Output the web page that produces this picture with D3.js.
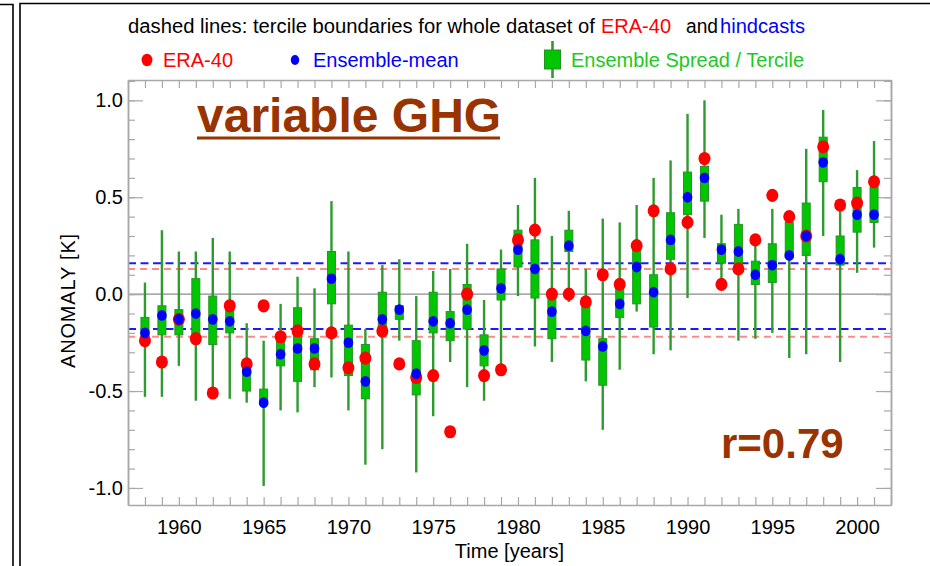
<!DOCTYPE html>
<html>
<head>
<meta charset="utf-8">
<script src="https://cdn.jsdelivr.net/npm/d3@7"></script>
<style>
  html, body { margin: 0; padding: 0; background: #fff; }
  svg { display: block; font-family: "Liberation Sans", Arial, Helvetica, sans-serif; }
</style>
</head>
<body>
<svg id="chart" width="930" height="566"></svg>
<script>
// Years of the hindcast period
const years = d3.range(1958, 2002);

// ERA-40 reanalysis anomaly [K]
const era40 = [-0.24, -0.35, -0.13, -0.23, -0.51, -0.06, -0.36, -0.06, -0.22, -0.19,
               -0.36, -0.20, -0.38, -0.33, -0.19, -0.36, -0.43, -0.42, -0.71, 0.00,
               -0.42, -0.39, 0.28, 0.33, 0.00, 0.00, -0.04, 0.10, 0.05, 0.25,
               0.43, 0.13, 0.37, 0.70, 0.05, 0.13, 0.28, 0.51, 0.40, 0.30,
               0.76, 0.46, 0.47, 0.58];

// Ensemble-mean anomaly [K]
const ensMean = [-0.20, -0.11, -0.13, -0.10, -0.13, -0.14, -0.40, -0.56, -0.31, -0.28,
                 -0.28, 0.08, -0.25, -0.45, -0.13, -0.08, -0.41, -0.14, -0.15, -0.08,
                 -0.29, 0.03, 0.23, 0.13, -0.09, 0.25, -0.19, -0.27, -0.05, 0.14,
                 0.01, 0.28, 0.50, 0.60, 0.23, 0.22, 0.10, 0.15, 0.20, 0.30,
                 0.68, 0.18, 0.41, 0.41];

// Ensemble spread (min / max of members)
const spreadMin = [-0.53, -0.53, -0.37, -0.55, -0.54, -0.54, -0.56, -0.99, -0.60, -0.61,
                   -0.48, -0.43, -0.60, -0.88, -0.80, -0.24, -0.92, -0.63, -0.35, -0.48,
                   -0.55, -0.38, -0.01, -0.27, -0.35, -0.04, -0.45, -0.70, -0.39, -0.09,
                   -0.31, -0.29, -0.02, 0.29, 0.06, -0.24, -0.23, -0.20, -0.33, -0.31,
                   0.30, -0.35, 0.11, 0.24];
const spreadMax = [0.06, 0.33, 0.22, 0.22, 0.29, 0.22, -0.15, -0.24, -0.05, 0.09,
                   0.03, 0.48, 0.22, -0.18, 0.15, 0.18, -0.01, 0.12, 0.13, 0.26,
                   -0.03, 0.23, 0.46, 0.60, 0.30, 0.43, 0.13, 0.39, 0.37, 0.46,
                   0.60, 0.69, 0.93, 1.00, 0.41, 0.44, 0.28, 0.44, 0.40, 0.75,
                   0.95, 0.44, 0.64, 0.79];

// Ensemble terciles (lower / upper)
const tercLow = [-0.24, -0.21, -0.21, -0.22, -0.26, -0.20, -0.50, -0.57, -0.37, -0.45,
                 -0.39, -0.05, -0.42, -0.54, -0.19, -0.13, -0.52, -0.20, -0.24, -0.18,
                 -0.37, -0.03, 0.14, -0.02, -0.23, 0.22, -0.34, -0.47, -0.12, -0.05,
                 -0.17, 0.18, 0.41, 0.48, 0.16, 0.15, 0.05, 0.06, 0.19, 0.20,
                 0.58, 0.15, 0.32, 0.37];
const tercHigh = [-0.12, -0.06, -0.08, 0.08, -0.01, -0.07, -0.36, -0.49, -0.24, -0.07,
                  -0.23, 0.22, -0.16, -0.26, 0.01, -0.06, -0.24, 0.01, -0.09, 0.05,
                  -0.21, 0.13, 0.33, 0.28, 0.00, 0.33, -0.04, -0.23, 0.07, 0.24,
                  0.10, 0.42, 0.63, 0.66, 0.26, 0.36, 0.17, 0.26, 0.37, 0.47,
                  0.81, 0.30, 0.55, 0.55];

// Tercile boundaries over the whole dataset
const eraTerciles = [-0.22, 0.13];
const hindcastTerciles = [-0.18, 0.16];

// Axis tick values and labels
const yMajorTicks = [-1.0, -0.5, 0.0, 0.5, 1.0];
const xLabelYears = [1960, 1965, 1970, 1975, 1980, 1985, 1990, 1995, 2000];

const rows = years.map((yr, i) => ({
  year: yr, era: era40[i], ens: ensMean[i],
  lo: spreadMin[i], hi: spreadMax[i], tLo: tercLow[i], tHi: tercHigh[i]
}));

const svg = d3.select("#chart");
const plot = { left: 128, right: 891, top: 80, bottom: 505 };

const x = d3.scaleLinear().domain([1957, 2002]).range([plot.left, plot.right]);
const y = d3.scaleLinear().domain([-1.088, 1.105]).range([plot.bottom, plot.top]);

const brown = "#993300";
const axisGrey = "#a8a8a8";

// Outer panel frames
svg.append("path").attr("d", "M0,4.5H13V566")
  .attr("fill", "none").attr("stroke", "#000").attr("stroke-width", 1.6);
svg.append("path").attr("d", "M20,566V3.5H930")
  .attr("fill", "none").attr("stroke", "#000").attr("stroke-width", 1.6);

// Zero line
svg.append("line")
  .attr("x1", plot.left).attr("x2", plot.right)
  .attr("y1", y(0)).attr("y2", y(0))
  .attr("stroke", "#8c8c8c").attr("stroke-width", 1.2);

// Tercile boundary lines for the whole dataset
const tercGroup = svg.append("g");
tercGroup.selectAll("line.era").data(eraTerciles).join("line")
  .attr("class", "era")
  .attr("x1", plot.left).attr("x2", plot.right)
  .attr("y1", d => y(d)).attr("y2", d => y(d))
  .attr("stroke", "#ff8a8a").attr("stroke-width", 2)
  .attr("stroke-dasharray", "7,5");
tercGroup.selectAll("line.hind").data(hindcastTerciles).join("line")
  .attr("class", "hind")
  .attr("x1", plot.left).attr("x2", plot.right)
  .attr("y1", d => y(d)).attr("y2", d => y(d))
  .attr("stroke", "#1a1aff").attr("stroke-width", 2)
  .attr("stroke-dasharray", "8,4.5");

// Axes: minor and major ticks on all four sides, pointing inward
function styleAxis(g) {
  g.select(".domain").attr("stroke", axisGrey).attr("stroke-width", 1.5);
  g.selectAll(".tick line").attr("stroke", axisGrey).attr("stroke-width", 1.2);
  g.selectAll(".tick text").attr("fill", "#000").attr("font-size", 20)
    .attr("font-family", "Liberation Sans, Arial, sans-serif");
}

const xMinor = d3.range(1957, 2003);
const yMinor = d3.range(-10, 12).map(v => v / 10);
const fmtY = v => d3.format(".1f")(v).replace("\u2212", "-");

svg.append("g").attr("transform", `translate(0,${plot.bottom})`)
  .call(d3.axisBottom(x).tickValues(xMinor).tickSize(-8).tickSizeOuter(0).tickFormat(""))
  .call(styleAxis);
svg.append("g").attr("transform", `translate(0,${plot.bottom})`)
  .call(d3.axisBottom(x).tickValues(xLabelYears).tickSize(0).tickPadding(15).tickFormat(d3.format("d")))
  .call(styleAxis)
  .call(g => g.select(".domain").remove());
svg.append("g").attr("transform", `translate(0,${plot.top})`)
  .call(d3.axisTop(x).tickValues(xMinor).tickSize(-8).tickSizeOuter(0).tickFormat(""))
  .call(styleAxis);

svg.append("g").attr("transform", `translate(${plot.left},0)`)
  .call(d3.axisLeft(y).tickValues(yMinor).tickSize(-7).tickSizeOuter(0).tickFormat(""))
  .call(styleAxis);
svg.append("g").attr("transform", `translate(${plot.left},0)`)
  .call(d3.axisLeft(y).tickValues(yMajorTicks).tickSize(-15).tickSizeOuter(0).tickPadding(5)
    .tickFormat(fmtY))
  .call(styleAxis);
svg.append("g").attr("transform", `translate(${plot.right},0)`)
  .call(d3.axisRight(y).tickValues(yMinor).tickSize(-7).tickSizeOuter(0).tickFormat(""))
  .call(styleAxis);
svg.append("g").attr("transform", `translate(${plot.right},0)`)
  .call(d3.axisRight(y).tickValues(yMajorTicks).tickSize(-15).tickSizeOuter(0).tickFormat(""))
  .call(styleAxis);

// Ensemble spread whiskers, tercile boxes, ERA-40 and ensemble-mean points
const marks = svg.append("g");
const boxW = 8;
marks.selectAll("line.spread").data(rows).join("line")
  .attr("class", "spread")
  .attr("x1", d => x(d.year)).attr("x2", d => x(d.year))
  .attr("y1", d => y(d.hi)).attr("y2", d => y(d.lo))
  .attr("stroke", "#2f9a2f").attr("stroke-width", 2.4);
marks.selectAll("rect.terc").data(rows).join("rect")
  .attr("class", "terc")
  .attr("x", d => x(d.year) - boxW / 2).attr("width", boxW)
  .attr("y", d => y(d.tHi)).attr("height", d => y(d.tLo) - y(d.tHi))
  .attr("fill", "#00c600").attr("stroke", "#279327").attr("stroke-width", 1);
marks.selectAll("ellipse.era").data(rows).join("ellipse")
  .attr("class", "era")
  .attr("cx", d => x(d.year)).attr("cy", d => y(d.era))
  .attr("rx", 6).attr("ry", 6.6).attr("fill", "#ff0000");
marks.selectAll("ellipse.ens").data(rows).join("ellipse")
  .attr("class", "ens")
  .attr("cx", d => x(d.year)).attr("cy", d => y(d.ens))
  .attr("rx", 4.8).attr("ry", 5.4).attr("fill", "#0000ff");

// Axis titles
svg.append("text")
  .attr("x", (plot.left + plot.right) / 2).attr("y", 558)
  .attr("text-anchor", "middle").attr("font-size", 20).attr("fill", "#000")
  .text("Time [years]");
svg.append("text")
  .attr("transform", `translate(75,${(plot.top + plot.bottom) / 2 + 8}) rotate(-90)`)
  .attr("text-anchor", "middle").attr("font-size", 20).attr("fill", "#000")
  .attr("letter-spacing", 0.8)
  .text("ANOMALY [K]");

// Header line
const header = [
  { t: "dashed lines: tercile boundaries for whole dataset of", x: 128, w: 467, c: "#000" },
  { t: "ERA-40", x: 601, w: 70, c: "#ff0000" },
  { t: "and", x: 686, w: 32, c: "#000" },
  { t: "hindcasts", x: 720, w: 85, c: "#0000ff" }
];
svg.selectAll("text.header").data(header).join("text")
  .attr("class", "header")
  .attr("x", d => d.x).attr("y", 33)
  .attr("font-size", 20).attr("fill", d => d.c)
  .attr("textLength", d => d.w).attr("lengthAdjust", "spacingAndGlyphs")
  .text(d => d.t);

// Legend
const legY = 60;
svg.append("ellipse").attr("cx", 147).attr("cy", legY).attr("rx", 5.4).attr("ry", 6.2).attr("fill", "#ff0000");
svg.append("text").attr("x", 163).attr("y", 67).attr("font-size", 20).attr("fill", "#ff0000").text("ERA-40");
svg.append("ellipse").attr("cx", 295).attr("cy", legY).attr("rx", 4.2).attr("ry", 5).attr("fill", "#0000ff");
svg.append("text").attr("x", 313).attr("y", 67).attr("font-size", 20).attr("fill", "#0000ff").text("Ensemble-mean");
svg.append("line").attr("x1", 552.5).attr("x2", 552.5).attr("y1", 41).attr("y2", 78)
  .attr("stroke", "#2f9a2f").attr("stroke-width", 2.6);
svg.append("rect").attr("x", 544.5).attr("y", 50).attr("width", 16).attr("height", 19)
  .attr("fill", "#00c600").attr("stroke", "#279327").attr("stroke-width", 1);
svg.append("text").attr("x", 571).attr("y", 67).attr("font-size", 20).attr("fill", "#1ec81e")
  .text("Ensemble Spread / Tercile");

// Annotations
svg.append("text").attr("x", 197).attr("y", 132)
  .attr("font-size", 48).attr("font-weight", "bold").attr("fill", brown)
  .text("variable GHG");
svg.append("line").attr("x1", 197).attr("x2", 500).attr("y1", 138).attr("y2", 138)
  .attr("stroke", brown).attr("stroke-width", 3);
svg.append("text").attr("x", 721).attr("y", 458)
  .attr("font-size", 42).attr("font-weight", "bold").attr("fill", brown)
  .text("r=0.79");
</script>
</body>
</html>
